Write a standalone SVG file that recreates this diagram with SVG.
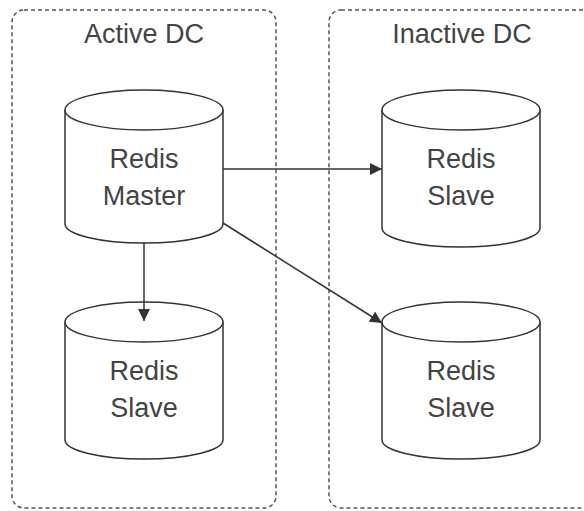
<svg xmlns="http://www.w3.org/2000/svg" width="584" height="511" viewBox="0 0 584 511">
<style>
.dc{fill:none;stroke:#555;stroke-width:1.5;stroke-dasharray:4 3}
.cyl{fill:#fff;stroke:#333;stroke-width:1.5}
.t{font-family:"Liberation Sans",Arial,sans-serif;font-size:27px;fill:#444;text-anchor:middle}
.e{stroke:#333;stroke-width:1.5;fill:none}
</style>
<defs>
<marker id="ah" viewBox="0 0 12 12" refX="12" refY="6" markerWidth="12" markerHeight="12" markerUnits="userSpaceOnUse" orient="auto">
<path d="M0,0 L12,6 L0,12 z" fill="#333"/>
</marker>
</defs>
<g id="active-dc">
<rect class="dc" x="12" y="10" width="264" height="498" rx="12"/>
<text class="t" x="144" y="43">Active DC</text>
</g>
<g id="inactive-dc">
<rect class="dc" x="329" y="10" width="270" height="498" rx="12"/>
<text class="t" x="462" y="43">Inactive DC</text>
</g>
<g id="master">
<path class="cyl" d="M65,110 L65,224 A79,19 0 0 0 223,224 L223,110"/>
<ellipse class="cyl" cx="144" cy="110" rx="79" ry="20"/>
<text class="t" x="144" y="168">Redis</text>
<text class="t" x="144" y="205">Master</text>
</g>
<g id="slave-local">
<path class="cyl" d="M65,322 L65,440 A79,19 0 0 0 223,440 L223,322"/>
<ellipse class="cyl" cx="144" cy="322" rx="79" ry="20"/>
<text class="t" x="144" y="380">Redis</text>
<text class="t" x="144" y="417">Slave</text>
</g>
<g id="slave-remote-1">
<path class="cyl" d="M382,110 L382,228 A79,19 0 0 0 540,228 L540,110"/>
<ellipse class="cyl" cx="461" cy="110" rx="79" ry="20"/>
<text class="t" x="461" y="168">Redis</text>
<text class="t" x="461" y="205">Slave</text>
</g>
<g id="slave-remote-2">
<path class="cyl" d="M382,322 L382,440 A79,19 0 0 0 540,440 L540,322"/>
<ellipse class="cyl" cx="461" cy="322" rx="79" ry="20"/>
<text class="t" x="461" y="380">Redis</text>
<text class="t" x="461" y="417">Slave</text>
</g>
<g id="connectors">
<line class="e" x1="223" y1="169" x2="382" y2="169" marker-end="url(#ah)"/>
<line class="e" x1="223" y1="223" x2="382" y2="323" marker-end="url(#ah)"/>
<line class="e" x1="144" y1="243" x2="144" y2="321" marker-end="url(#ah)"/>
</g>
</svg>
